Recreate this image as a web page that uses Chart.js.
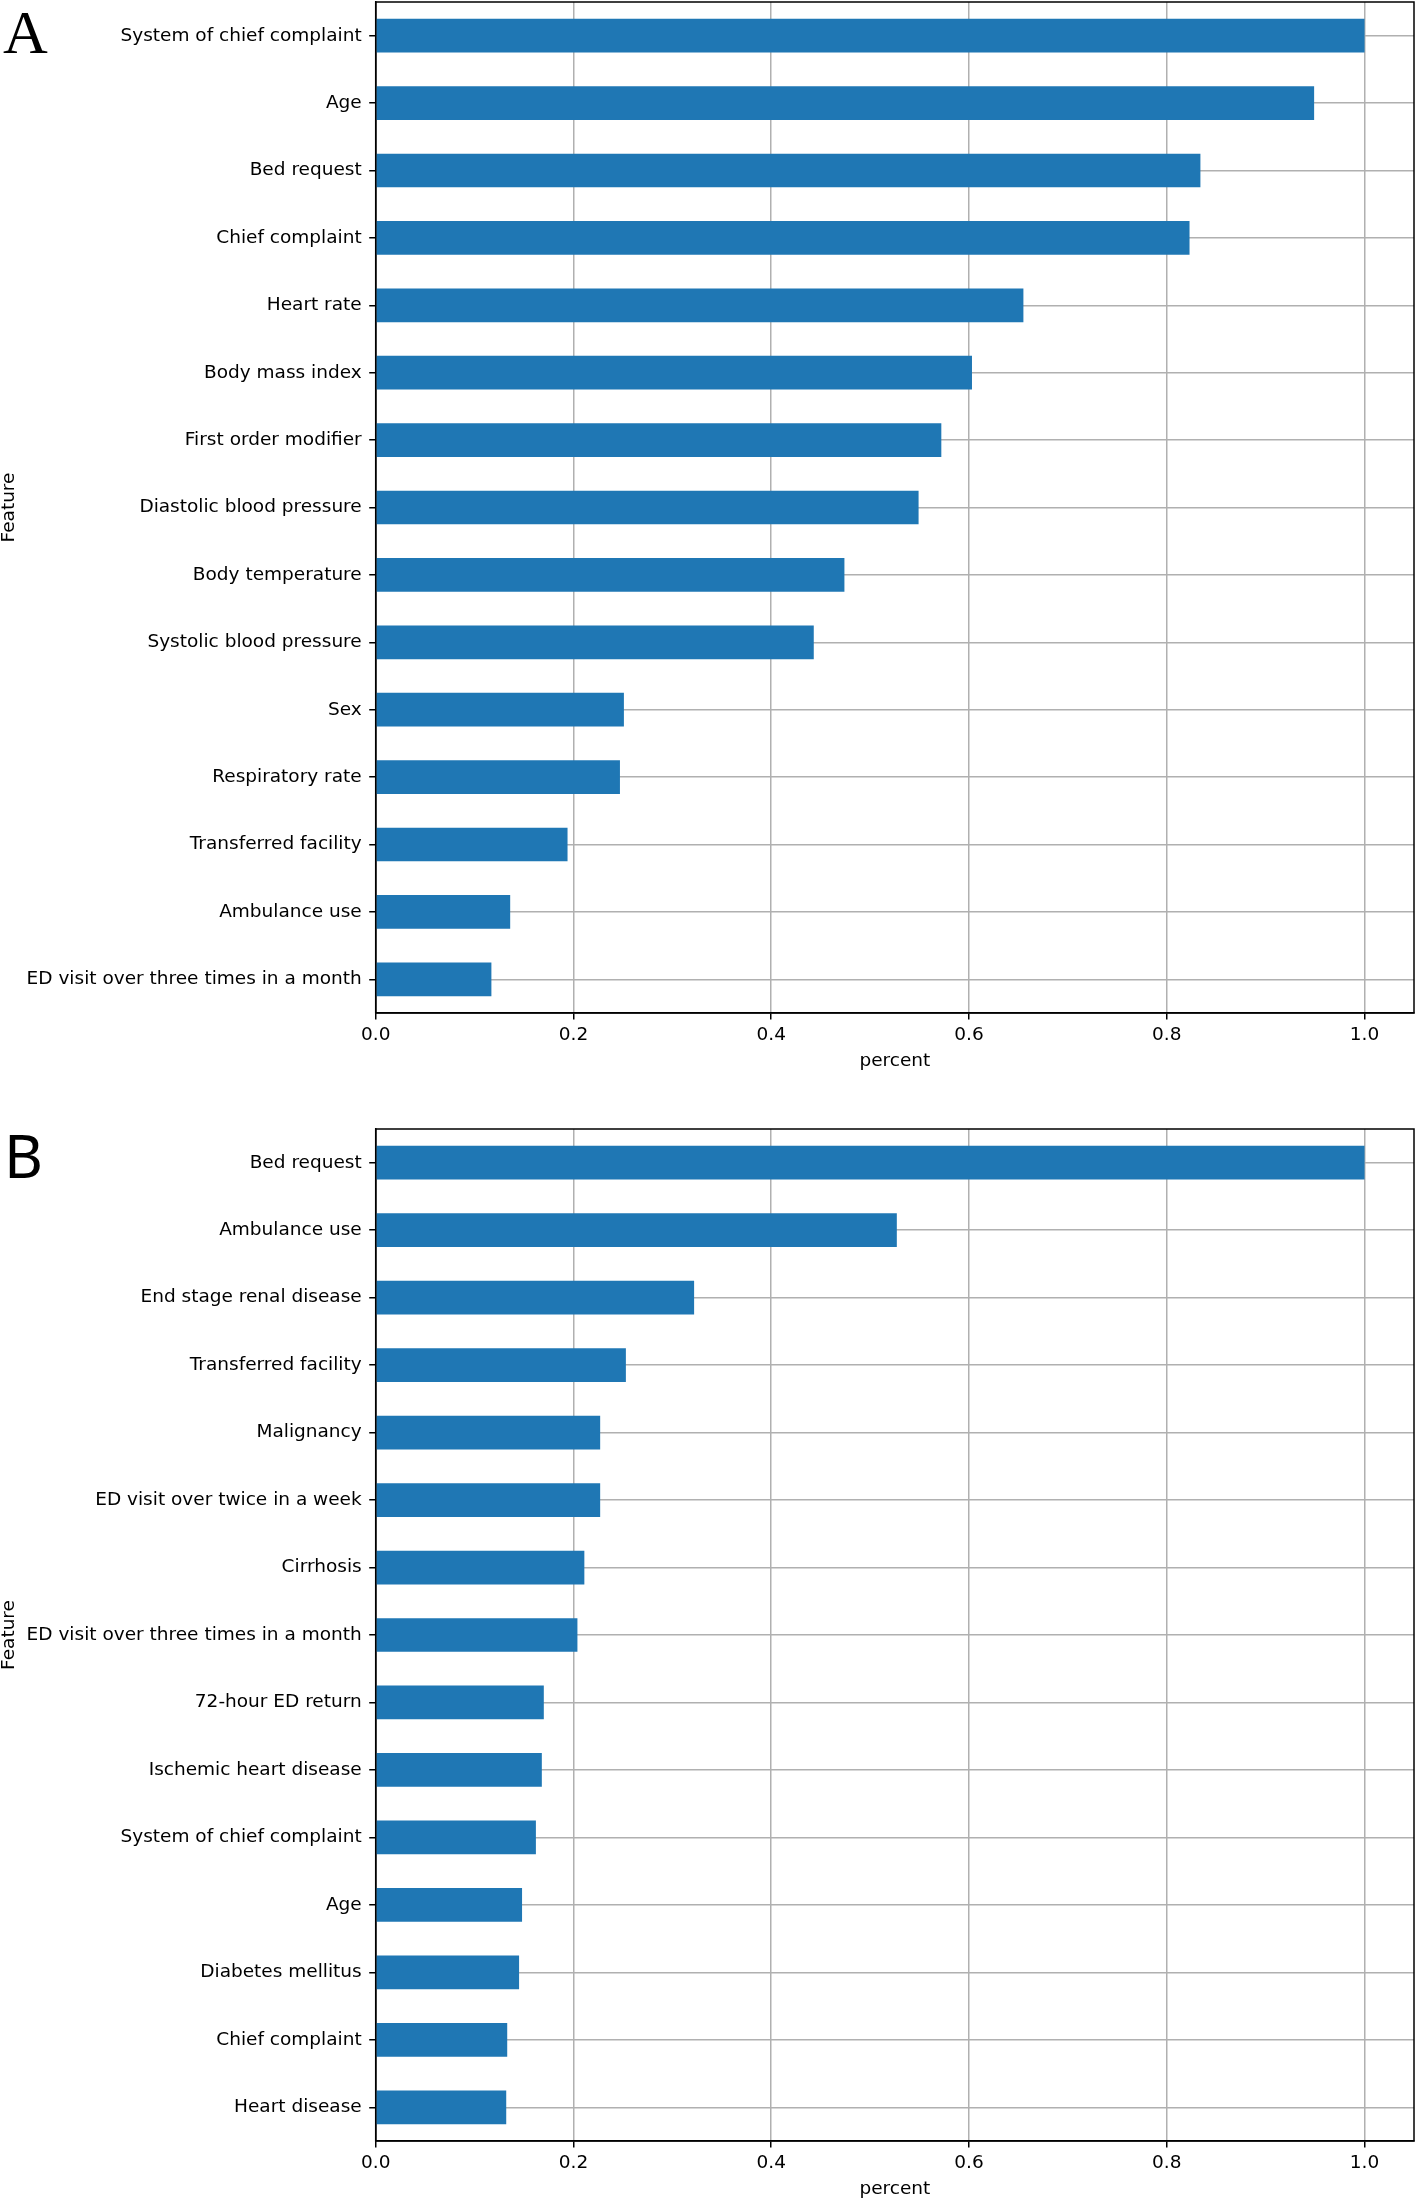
<!DOCTYPE html>
<html>
<head>
<meta charset="utf-8">
<script src="https://cdn.jsdelivr.net/npm/chart.js@4"></script>
<style>
  body { margin: 0; background: #fff; }
  .panel { position: relative; width: 1416px; }
  #panelA { height: 1072px; }
  #panelB { height: 1128px; }
</style>
</head>
<body>
<div class="panel" id="panelA"><canvas id="chartA"></canvas></div>
<div class="panel" id="panelB"><canvas id="chartB"></canvas></div>
<script>
// Panel A - features, top to bottom
const featuresA = [
    'System of chief complaint', 'Age', 'Bed request', 'Chief complaint', 'Heart rate',
    'Body mass index', 'First order modifier', 'Diastolic blood pressure', 'Body temperature',
    'Systolic blood pressure', 'Sex', 'Respiratory rate', 'Transferred facility',
    'Ambulance use', 'ED visit over three times in a month'
];
const percentA = [1.0, 0.949, 0.834, 0.823, 0.655, 0.603, 0.572, 0.549, 0.474, 0.443, 0.251, 0.247, 0.194, 0.136, 0.117];

// Panel B
const featuresB = [
    'Bed request', 'Ambulance use', 'End stage renal disease', 'Transferred facility',
    'Malignancy', 'ED visit over twice in a week', 'Cirrhosis', 'ED visit over three times in a month',
    '72-hour ED return', 'Ischemic heart disease', 'System of chief complaint', 'Age',
    'Diabetes mellitus', 'Chief complaint', 'Heart disease'
];
const percentB = [1.0, 0.527, 0.322, 0.253, 0.227, 0.227, 0.211, 0.204, 0.170, 0.168, 0.162, 0.148, 0.145, 0.133, 0.132];

const xTicks = [0.0, 0.2, 0.4, 0.6, 0.8, 1.0];

Chart.defaults.font.family = "'DejaVu Sans', sans-serif";
Chart.defaults.font.size = 18.5;
Chart.defaults.color = '#000';

// box around the plot + panel letter
const framePlugin = {
    id: 'frame',
    afterDraw(chart, args, opts) {
        const { ctx, chartArea: a } = chart;
        ctx.save();
        ctx.strokeStyle = '#000';
        ctx.lineWidth = 1.5;
        ctx.strokeRect(a.left, a.top, a.right - a.left, a.bottom - a.top);
        ctx.fillStyle = '#000';
        ctx.font = opts.font;
        ctx.textBaseline = 'alphabetic';
        ctx.fillText(opts.letter, opts.x, opts.y);
        ctx.restore();
    }
};

function makeChart(id, labels, values, letter, padTop) {
    const gridOpts = { color: '#b0b0b0', lineWidth: 1.5, tickColor: '#000', tickWidth: 1.5, tickLength: 6.5 };
    return new Chart(document.getElementById(id), {
        type: 'bar',
        data: {
            labels: labels,
            datasets: [{
                data: values,
                backgroundColor: '#1f77b4',
                barPercentage: 0.5,
                categoryPercentage: 1.0
            }]
        },
        options: {
            indexAxis: 'y',
            responsive: true,
            maintainAspectRatio: false,
            animation: false,
            layout: { padding: { top: padTop, right: 2, bottom: 0, left: 0 } },
            plugins: {
                legend: { display: false },
                tooltip: { enabled: false },
                frame: letter
            },
            scales: {
                x: {
                    type: 'linear',
                    min: 0,
                    max: 1.05,
                    z: 1,
                    afterBuildTicks: s => { s.ticks = xTicks.map(v => ({ value: v })); },
                    afterFit: s => { s.height = 59; s.paddingLeft = 0; s.paddingRight = 0; },
                    grid: gridOpts,
                    border: { color: '#000', width: 1.5 },
                    ticks: { padding: 5, autoSkip: false, maxRotation: 0, callback: v => Number(v).toFixed(1) },
                    title: { display: true, text: 'percent', padding: { top: 0, bottom: 0 } }
                },
                y: {
                    z: 1,
                    afterFit: s => { s.width = 375.7; s.paddingTop = 0; s.paddingBottom = 0; },
                    grid: Object.assign({ offset: false }, gridOpts),
                    border: { color: '#000', width: 1.5 },
                    ticks: { autoSkip: false, padding: 7.5 },
                    title: { display: true, text: 'Feature', padding: 0, font: { lineHeight: 1 } }
                }
            }
        },
        plugins: [framePlugin]
    });
}

makeChart('chartA', featuresA, percentA,
    { letter: 'A', font: "62px 'Liberation Serif', serif", x: 3, y: 53 }, 2);
makeChart('chartB', featuresB, percentB,
    { letter: 'B', font: "60px 'Noto Sans', sans-serif", x: 4, y: 106 }, 57);
</script>
</body>
</html>
